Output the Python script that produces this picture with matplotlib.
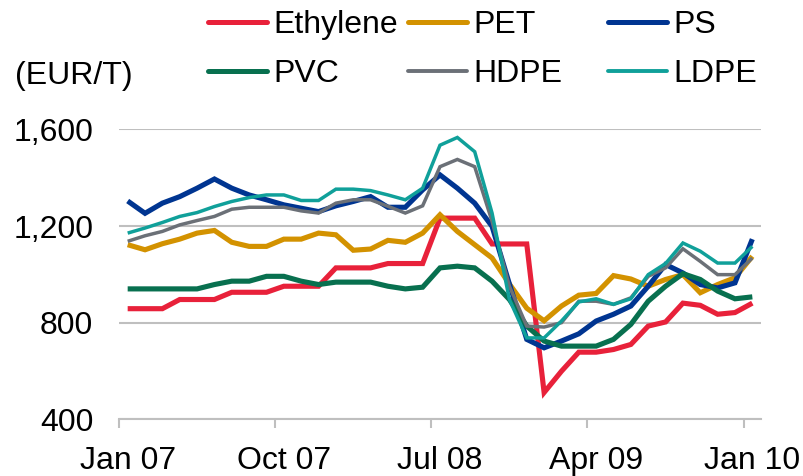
import matplotlib
matplotlib.use("Agg")
import matplotlib.pyplot as plt
from matplotlib.lines import Line2D
from matplotlib.ticker import FuncFormatter, FixedLocator

plt.rcParams['font.family'] = ['Liberation Sans', 'DejaVu Sans']

months = ["Jan 07", "Feb 07", "Mar 07", "Apr 07", "May 07", "Jun 07", "Jul 07", "Aug 07", "Sep 07",
          "Oct 07", "Nov 07", "Dec 07", "Jan 08", "Feb 08", "Mar 08", "Apr 08", "May 08", "Jun 08",
          "Jul 08", "Aug 08", "Sep 08", "Oct 08", "Nov 08", "Dec 08", "Jan 09", "Feb 09", "Mar 09",
          "Apr 09", "May 09", "Jun 09", "Jul 09", "Aug 09", "Sep 09", "Oct 09", "Nov 09", "Dec 09",
          "Jan 10"]
tick_labels = ["Jan 07", "Oct 07", "Jul 08", "Apr 09", "Jan 10"]

ethylene = [858, 858, 858, 896, 896, 896, 926, 926, 926, 951, 951, 951, 1027, 1027, 1027, 1045, 1045, 1045,
            1233, 1233, 1233, 1126, 1126, 1126, 511, 599, 678, 678, 689, 710, 786, 803, 881, 872, 835, 842, 881]
pet = [1123, 1102, 1127, 1146, 1171, 1182, 1133, 1116, 1116, 1146, 1146, 1171, 1164, 1100, 1105, 1141, 1133, 1171,
       1247, 1178, 1123, 1068, 960, 860, 808, 869, 914, 921, 995, 981, 951, 979, 999, 924, 958, 986, 1075]
ps = [1304, 1253, 1295, 1322, 1357, 1395, 1357, 1329, 1309, 1288, 1274, 1260, 1284, 1302, 1322, 1278, 1278, 1350,
      1412, 1357, 1295, 1199, 960, 731, 696, 724, 754, 807, 835, 869, 951, 1041, 1006, 958, 944, 965, 1146]
pvc = [940, 940, 940, 940, 940, 958, 972, 972, 992, 992, 972, 958, 968, 968, 968, 951, 940, 947,
       1027, 1034, 1027, 972, 896, 786, 724, 703, 703, 703, 731, 793, 889, 951, 1003, 979, 931, 899, 907]
hdpe = [1137, 1160, 1178, 1205, 1223, 1240, 1270, 1278, 1278, 1278, 1263, 1254, 1295, 1309, 1309, 1282, 1254, 1284,
        1446, 1476, 1446, 1220, 951, 786, 782, 800, 889, 889, 876, 903, 992, 1027, 1106, 1054, 999, 999, 1068]
ldpe = [1171, 1192, 1215, 1240, 1256, 1281, 1302, 1318, 1329, 1329, 1306, 1306, 1353, 1353, 1347, 1329, 1309, 1357,
        1535, 1567, 1508, 1254, 896, 737, 737, 807, 886, 899, 876, 899, 999, 1045, 1130, 1096, 1047, 1047, 1116]

series = [
    ("Ethylene", ethylene, "#E8213A", 3.7),
    ("PET", pet, "#D39200", 3.7),
    ("PS", ps, "#003591", 3.7),
    ("PVC", pvc, "#08704F", 3.7),
    ("HDPE", hdpe, "#6B7077", 2.5),
    ("LDPE", ldpe, "#10A09A", 2.5),
]

W, H = 804, 476
fig = plt.figure(figsize=(W / 100, H / 100), dpi=100)
ax = fig.add_axes([119 / W, 1 - 419.3 / H, (761 - 119) / W, (419.3 - 129.5) / H])

x = list(range(len(months)))
handles = []
for name, vals, color, lw in series:
    ax.plot(x, vals, color=color, lw=lw, solid_joinstyle='miter', solid_capstyle='butt', label=name)
    handles.append(Line2D([0], [0], color=color, lw=3.6 if lw > 3 else 2.8, solid_capstyle='round'))

ax.set_xlim(-0.5, len(months) - 0.5)
ax.set_ylim(400, 1600)
ax.set_yticks([400, 800, 1200, 1600])
ax.yaxis.set_major_formatter(FuncFormatter(lambda v, p: f"{int(v):,}"))
ax.grid(axis='y', color='#BFBFBF', lw=1.5)
ax.set_axisbelow(True)

major_pos = [months.index(t) for t in tick_labels]
ax.xaxis.set_major_locator(FixedLocator(major_pos))
ax.set_xticklabels(tick_labels)
ax.xaxis.set_minor_locator(FixedLocator([p - 0.5 for p in major_pos]))
ax.tick_params(axis='x', which='major', length=0, pad=19, labelsize=23)
ax.tick_params(axis='x', which='minor', length=6.5, width=1.5, color='#BFBFBF', direction='out')
ax.tick_params(axis='y', length=0, pad=18.5, labelsize=23)

for s in ['top', 'right', 'left']:
    ax.spines[s].set_visible(False)
ax.spines['bottom'].set_color('#BFBFBF')
ax.spines['bottom'].set_linewidth(1.5)

fig.text(15 / W, 1 - 76 / H, "(EUR/T)", fontsize=23, ha='left', va='center')

col_x = [208, 408, 608]
names = [s[0] for s in series]
for c in range(3):
    hs = [handles[c], handles[c + 3]]
    ls = [names[c], names[c + 3]]
    fig.legend(hs, ls, loc='upper left', bbox_to_anchor=(col_x[c] / W, 1 - 10 / H),
               bbox_transform=fig.transFigure, frameon=False, fontsize=23,
               handlelength=1.84, handletextpad=0.22, labelspacing=0.6,
               borderpad=0, borderaxespad=0)

fig.savefig("out.png", dpi=100)
